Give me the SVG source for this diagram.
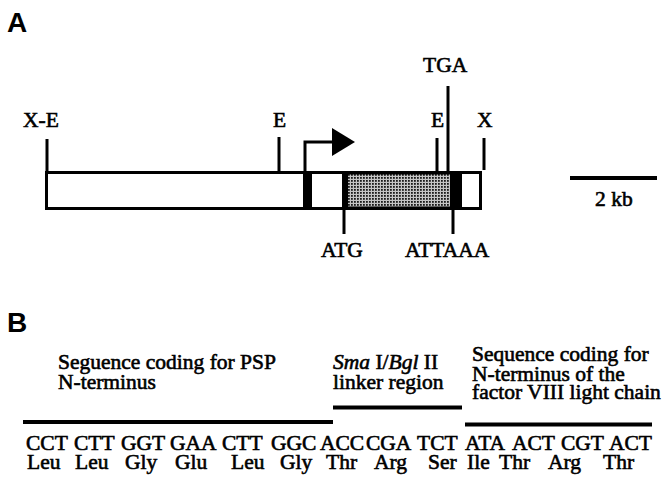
<svg xmlns="http://www.w3.org/2000/svg" width="663" height="478" viewBox="0 0 663 478">
<style>
.t{font-family:"Liberation Serif","Times New Roman",serif;font-size:21.5px;fill:#000;stroke:#000;stroke-width:0.6px}
.lab{font-family:"Liberation Sans",Arial,sans-serif;font-weight:bold;font-size:28px;fill:#000}
.ln{stroke:#000;stroke-width:3;fill:none}
.bar{stroke:#000;stroke-width:4;fill:none}
</style>
<defs>
<pattern id="stip" patternUnits="userSpaceOnUse" width="3" height="3">
<rect width="3" height="3" fill="#c4c4c4"/>
<rect width="1.8" height="1.8" fill="#1a1a1a"/>
</pattern>
</defs>
<rect width="663" height="478" fill="#fff"/>
<text class="lab" x="7" y="32">A</text>
<text class="lab" x="7" y="332">B</text>

<g id="gene-map">
<rect x="46.5" y="172.5" width="434" height="36" fill="#fff" stroke="#000" stroke-width="3"/>
<rect x="303" y="171" width="9" height="39" fill="#000"/>
<rect x="342" y="171" width="120" height="39" fill="#000"/>
<rect x="348" y="174.5" width="102" height="32" fill="url(#stip)"/>
</g>

<g id="connectors">
<line class="ln" x1="47" y1="139" x2="47" y2="172"/>
<line class="ln" x1="279" y1="137" x2="279" y2="172"/>
<line class="ln" x1="437" y1="138" x2="437" y2="172"/>
<line class="ln" x1="448" y1="86" x2="448" y2="172"/>
<line class="ln" x1="484" y1="138" x2="484" y2="170"/>
<line class="ln" x1="344" y1="209" x2="344" y2="234"/>
<line class="ln" x1="453" y1="209" x2="453" y2="234"/>
<polyline class="ln" points="305,172 305,142 334,142"/>
<polygon points="332,128 355,142 332,156" fill="#000"/>
<line class="bar" x1="570" y1="178" x2="657" y2="178"/>
<line class="bar" x1="23" y1="422" x2="333" y2="422"/>
<line class="bar" x1="333" y1="407.5" x2="462" y2="407.5"/>
<line class="bar" x1="465" y1="424.5" x2="652" y2="424.5"/>
</g>

<g id="site-labels">
<text class="t" x="23" y="127">X-E</text>
<text class="t" x="273" y="127">E</text>
<text class="t" x="431" y="127">E</text>
<text class="t" x="477" y="127">X</text>
<text class="t" x="423" y="72">TGA</text>
<text class="t" x="321" y="257">ATG</text>
<text class="t" x="405" y="257">ATTAAA</text>
<text class="t" x="595" y="206">2 kb</text>
</g>

<g id="region-labels">
<text class="t" x="58" y="369">Seguence coding for PSP</text>
<text class="t" x="58" y="389">N-terminus</text>
<text class="t" x="333" y="369"><tspan font-style="italic">Sma</tspan> I/<tspan font-style="italic">Bgl</tspan> II</text>
<text class="t" x="333" y="389">linker region</text>
<text class="t" x="472" y="361">Sequence coding for</text>
<text class="t" x="472" y="381">N-terminus of the</text>
<text class="t" x="472" y="399">factor VIII light chain</text>
</g>

<g id="codons">
<text class="t" x="26" y="450">CCT</text>
<text class="t" x="74" y="450">CTT</text>
<text class="t" x="121" y="450">GGT</text>
<text class="t" x="170" y="450">GAA</text>
<text class="t" x="222" y="450">CTT</text>
<text class="t" x="271" y="450">GGC</text>
<text class="t" x="320" y="450">ACC</text>
<text class="t" x="366" y="450">CGA</text>
<text class="t" x="417" y="450">TCT</text>
<text class="t" x="465" y="450">ATA</text>
<text class="t" x="512" y="450">ACT</text>
<text class="t" x="561" y="450">CGT</text>
<text class="t" x="609" y="450">ACT</text>
</g>

<g id="amino-acids">
<text class="t" x="27" y="469">Leu</text>
<text class="t" x="75" y="469">Leu</text>
<text class="t" x="125" y="469">Gly</text>
<text class="t" x="175" y="469">Glu</text>
<text class="t" x="231" y="469">Leu</text>
<text class="t" x="280" y="469">Gly</text>
<text class="t" x="326" y="469">Thr</text>
<text class="t" x="374" y="469">Arg</text>
<text class="t" x="428" y="469">Ser</text>
<text class="t" x="467" y="469">Ile</text>
<text class="t" x="499" y="469">Thr</text>
<text class="t" x="548" y="469">Arg</text>
<text class="t" x="603" y="469">Thr</text>
</g>
</svg>
